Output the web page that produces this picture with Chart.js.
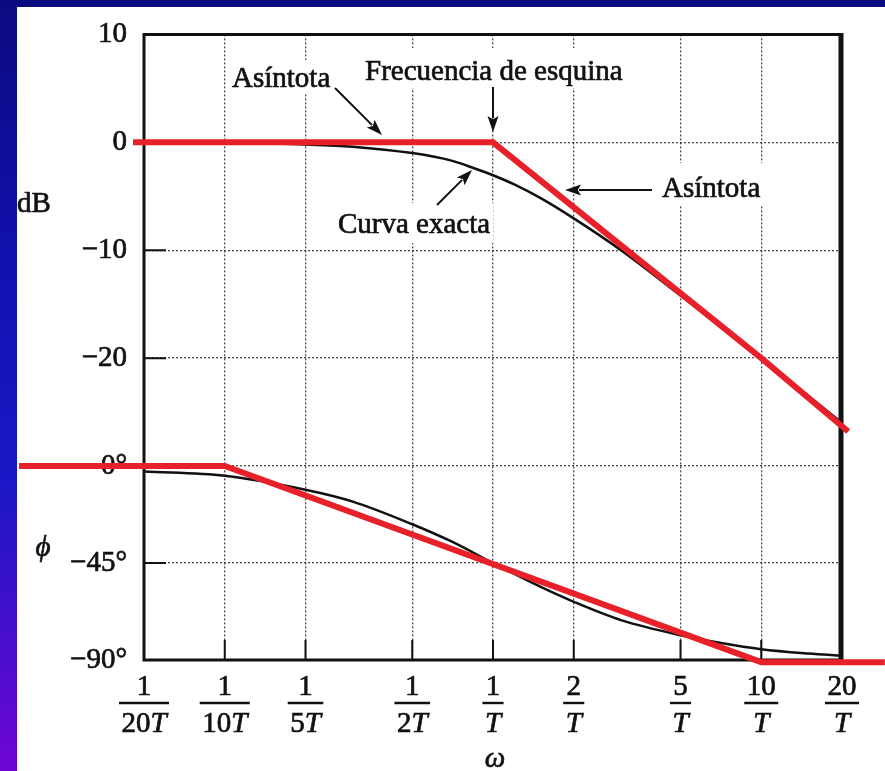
<!DOCTYPE html>
<html>
<head>
<meta charset="utf-8">
<script src="https://cdn.jsdelivr.net/npm/chart.js@4.4.1/dist/chart.umd.min.js"></script>
<style>
  html, body { margin: 0; padding: 0; background: #0b0b80; }
  canvas { display: block; }
</style>
</head>
<body>
<canvas id="bode" width="885" height="771" style="width:885px;height:771px"></canvas>
<script>
// Frequency ticks, in units of 1/T
const omegaTicks = [0.05, 0.1, 0.2, 0.5, 1, 2, 5, 10, 20];
const tickNumerators = ['1', '1', '1', '1', '1', '2', '5', '10', '20'];
const tickDenominators = ['20', '10', '5', '2', '', '', '', '', '']; // each followed by an italic T

const magTickValues = [10, 0, -10, -20];
const magTickLabels = ['10', '0', '−10', '−20'];
const phaseTickValues = [0, -45, -90];
const phaseTickLabels = ['0°', '−45°', '−90°'];

// Exact magnitude curve (dB)
const magOmega = [0.05, 0.1, 0.2, 0.3, 0.5, 0.7, 0.85, 1, 1.2, 1.5, 2, 3, 5, 10, 20];
const magExact = [0, -0.05, -0.2, -0.4, -1.0, -1.7, -2.4, -3.05, -3.9, -5.15, -7.05, -10.0, -14.2, -20.0, -26.0];

// Straight-line magnitude asymptote (dB)
const magAsymOmega = [0.0455, 1, 10, 21.1];
const magAsym = [0, 0, -20, -26.8];

// Exact phase curve (degrees)
const phaseOmega = [0.05, 0.1, 0.2, 0.3, 0.5, 0.7, 1, 1.5, 2, 3, 5, 7, 10, 15, 20];
const phaseExact = [-2.5, -4.5, -11, -16.5, -27, -35, -45, -56, -63, -71.5, -78.5, -82, -85, -87, -88];

// Straight-line phase asymptote (degrees)
const phaseAsymOmega = [0.0171, 0.1, 10, 28.9];
const phaseAsym = [0, 0, -91, -91];

const SERIF = '"Liberation Serif", "Times New Roman", serif';
const INK = '#111111';
const RED = '#e8202a';
const TEXT_STROKE = 0.7;

const toPoints = (xs, ys) => xs.map((x, i) => ({ x: x, y: ys[i] }));
const lookup = (values, labels) => (v) => {
  const i = values.indexOf(v);
  return i >= 0 ? labels[i] : null;
};

// Text callouts with arrows
const callouts = [
  { text: 'Asíntota', x: 232, y: 87, box: [228, 60, 106, 33], arrow: [335, 88, 382, 135] },
  { text: 'Frecuencia de esquina', x: 365, y: 80, box: [360, 48, 266, 40], arrow: [493, 87, 493, 132] },
  { text: 'Curva exacta', x: 338, y: 233, box: [333, 203, 160, 40], arrow: [437, 205, 472, 170] },
  { text: 'Asíntota', x: 662, y: 197, box: [655, 163, 112, 42], arrow: [652, 190, 565, 190] }
];

// filled text with a thin outline of the same ink
function inkText(ctx, s, x, y) {
  ctx.fillText(s, x, y);
  ctx.strokeText(s, x, y);
}

function drawArrow(ctx, x1, y1, x2, y2) {
  const ang = Math.atan2(y2 - y1, x2 - x1);
  const len = 16, half = 5.5;
  ctx.beginPath();
  ctx.moveTo(x1, y1);
  ctx.lineTo(x2 - Math.cos(ang) * (len - 2), y2 - Math.sin(ang) * (len - 2));
  ctx.stroke();
  ctx.beginPath();
  ctx.moveTo(x2, y2);
  ctx.lineTo(x2 - Math.cos(ang) * len - Math.sin(ang) * half, y2 - Math.sin(ang) * len + Math.cos(ang) * half);
  ctx.lineTo(x2 - Math.cos(ang) * len * 0.8, y2 - Math.sin(ang) * len * 0.8);
  ctx.lineTo(x2 - Math.cos(ang) * len + Math.sin(ang) * half, y2 - Math.sin(ang) * len - Math.cos(ang) * half);
  ctx.closePath();
  ctx.fill();
}

const backdrop = {
  id: 'backdrop',
  beforeDraw(chart) {
    const { ctx, width, height } = chart;
    ctx.save();
    const g = ctx.createLinearGradient(0, 0, 0, height);
    g.addColorStop(0, '#0b0b80');
    g.addColorStop(0.35, '#1111b0');
    g.addColorStop(0.62, '#1a18c6');
    g.addColorStop(1, '#6e06d2');
    ctx.fillStyle = g;
    ctx.fillRect(0, 0, width, height);
    ctx.fillStyle = '#ffffff';
    ctx.fillRect(17, 7, width - 17, height - 7);
    ctx.restore();
  }
};

const decorations = {
  id: 'decorations',
  beforeDatasetsDraw(chart) {
    const { ctx, chartArea: a, scales } = chart;
    ctx.save();
    // clear grid behind callout text
    ctx.fillStyle = '#ffffff';
    callouts.forEach(c => ctx.fillRect(c.box[0], c.box[1], c.box[2], c.box[3]));

    // short solid ticks inside the frame
    ctx.strokeStyle = INK;
    ctx.lineWidth = 2;
    ctx.beginPath();
    [0, -10, -20].forEach(v => {
      const y = scales.yMag.getPixelForValue(v);
      ctx.moveTo(a.left, y); ctx.lineTo(a.left + 22, y);
    });
    [-45].forEach(v => {
      const y = scales.yPh.getPixelForValue(v);
      ctx.moveTo(a.left, y); ctx.lineTo(a.left + 22, y);
    });
    omegaTicks.slice(1, -1).forEach(v => {
      const x = scales.x.getPixelForValue(v);
      ctx.moveTo(x, a.bottom); ctx.lineTo(x, a.bottom - 20);
    });
    ctx.stroke();

    // frame
    ctx.lineWidth = 3;
    ctx.beginPath();
    ctx.moveTo(a.right, a.top); ctx.lineTo(a.left, a.top);
    ctx.lineTo(a.left, a.bottom); ctx.lineTo(a.right, a.bottom);
    ctx.stroke();
    ctx.lineWidth = 5;
    ctx.beginPath();
    ctx.moveTo(a.right - 1, a.top - 1.5); ctx.lineTo(a.right - 1, a.bottom + 1.5);
    ctx.stroke();

    // callouts
    ctx.fillStyle = INK;
    ctx.font = '29px ' + SERIF;
    ctx.textBaseline = 'alphabetic';
    ctx.textAlign = 'left';
    ctx.lineWidth = TEXT_STROKE;
    callouts.forEach(c => inkText(ctx, c.text, c.x, c.y));
    ctx.lineWidth = 2;
    callouts.forEach(c => drawArrow(ctx, c.arrow[0], c.arrow[1], c.arrow[2], c.arrow[3]));
    ctx.restore();
  },
  afterDraw(chart) {
    const { ctx, chartArea: a, scales } = chart;
    ctx.save();
    ctx.fillStyle = INK;
    ctx.strokeStyle = INK;
    ctx.textBaseline = 'alphabetic';
    const reg = '29px ' + SERIF;
    const ital = 'italic 29px ' + SERIF;

    // fraction tick labels on the frequency axis
    omegaTicks.forEach((v, i) => {
      const cx = scales.x.getPixelForValue(v);
      ctx.lineWidth = TEXT_STROKE;
      ctx.font = reg;
      ctx.textAlign = 'center';
      inkText(ctx, tickNumerators[i], cx, 695);
      const numW = ctx.measureText(tickNumerators[i]).width;
      const dNum = tickDenominators[i];
      const wNum = dNum ? ctx.measureText(dNum).width : 0;
      ctx.font = ital;
      const wT = ctx.measureText('T').width;
      const total = wNum + wT;
      const x0 = cx - total / 2;
      ctx.textAlign = 'left';
      if (dNum) { ctx.font = reg; inkText(ctx, dNum, x0, 732); }
      ctx.font = ital;
      inkText(ctx, 'T', x0 + wNum, 732);
      const barW = Math.max(total, numW) + 5;
      ctx.lineWidth = 2.4;
      ctx.beginPath();
      ctx.moveTo(cx - barW / 2, 703); ctx.lineTo(cx + barW / 2, 703);
      ctx.stroke();
    });

    // axis names
    ctx.lineWidth = TEXT_STROKE;
    ctx.font = ital;
    ctx.textAlign = 'center';
    inkText(ctx, 'ω', (a.left + a.right) / 2 + 2, 767);
    inkText(ctx, 'ϕ', 43, 556);
    ctx.font = reg;
    ctx.textAlign = 'left';
    inkText(ctx, 'dB', 17, 212);
    ctx.restore();
  }
};

const gridStyle = { color: 'rgba(25,25,25,0.8)', lineWidth: 1.3, drawTicks: false };
const gridBorder = { display: false, dash: [2, 2] };
const tickFont = { family: SERIF, size: 29 };

new Chart(document.getElementById('bode'), {
  type: 'line',
  data: {
    datasets: [
      {
        label: 'Asíntota (magnitud)',
        data: toPoints(magAsymOmega, magAsym),
        xAxisID: 'x', yAxisID: 'yMag',
        borderColor: RED, borderWidth: 6, pointRadius: 0,
        borderJoinStyle: 'miter', borderCapStyle: 'butt',
        clip: false, order: 0
      },
      {
        label: 'Asíntota (fase)',
        data: toPoints(phaseAsymOmega, phaseAsym),
        xAxisID: 'x', yAxisID: 'yPh',
        borderColor: RED, borderWidth: 6, pointRadius: 0,
        borderJoinStyle: 'miter', borderCapStyle: 'butt',
        clip: false, order: 0
      },
      {
        label: 'Curva exacta (magnitud)',
        data: toPoints(magOmega, magExact),
        xAxisID: 'x', yAxisID: 'yMag',
        borderColor: INK, borderWidth: 2.5, pointRadius: 0,
        cubicInterpolationMode: 'monotone', order: 1
      },
      {
        label: 'Curva exacta (fase)',
        data: toPoints(phaseOmega, phaseExact),
        xAxisID: 'x', yAxisID: 'yPh',
        borderColor: INK, borderWidth: 2.5, pointRadius: 0,
        cubicInterpolationMode: 'monotone', order: 1
      }
    ]
  },
  options: {
    responsive: false,
    animation: false,
    events: [],
    layout: { padding: { left: 0, top: 31, right: 43, bottom: 0 } },
    plugins: { legend: { display: false }, tooltip: { enabled: false } },
    scales: {
      x: {
        type: 'logarithmic',
        position: 'bottom',
        min: 0.05, max: 20,
        afterBuildTicks: (s) => { s.ticks = omegaTicks.map(v => ({ value: v })); },
        afterFit: (s) => { s.height = 111; },
        ticks: { display: false },
        grid: gridStyle,
        border: gridBorder
      },
      yPh: {
        type: 'linear',
        position: 'left',
        stack: 'left',
        stackWeight: 195,
        weight: 1,
        min: -90, max: 0,
        afterBuildTicks: (s) => { s.ticks = phaseTickValues.slice().sort((p, q) => p - q).map(v => ({ value: v })); },
        afterFit: (s) => { s.width = 144; },
        ticks: {
          autoSkip: false, padding: 17, color: INK, font: tickFont,
          textStrokeColor: INK, textStrokeWidth: TEXT_STROKE,
          callback: lookup(phaseTickValues, phaseTickLabels)
        },
        grid: gridStyle,
        border: gridBorder
      },
      yMag: {
        type: 'linear',
        position: 'left',
        stack: 'left',
        stackWeight: 434,
        weight: 2,
        min: -30, max: 10,
        afterBuildTicks: (s) => { s.ticks = magTickValues.slice().sort((p, q) => p - q).map(v => ({ value: v })); },
        afterFit: (s) => { s.width = 144; },
        ticks: {
          autoSkip: false, padding: 17, color: INK, font: tickFont,
          textStrokeColor: INK, textStrokeWidth: TEXT_STROKE,
          callback: lookup(magTickValues, magTickLabels)
        },
        grid: gridStyle,
        border: gridBorder
      }
    }
  },
  plugins: [backdrop, decorations]
});
</script>
</body>
</html>
